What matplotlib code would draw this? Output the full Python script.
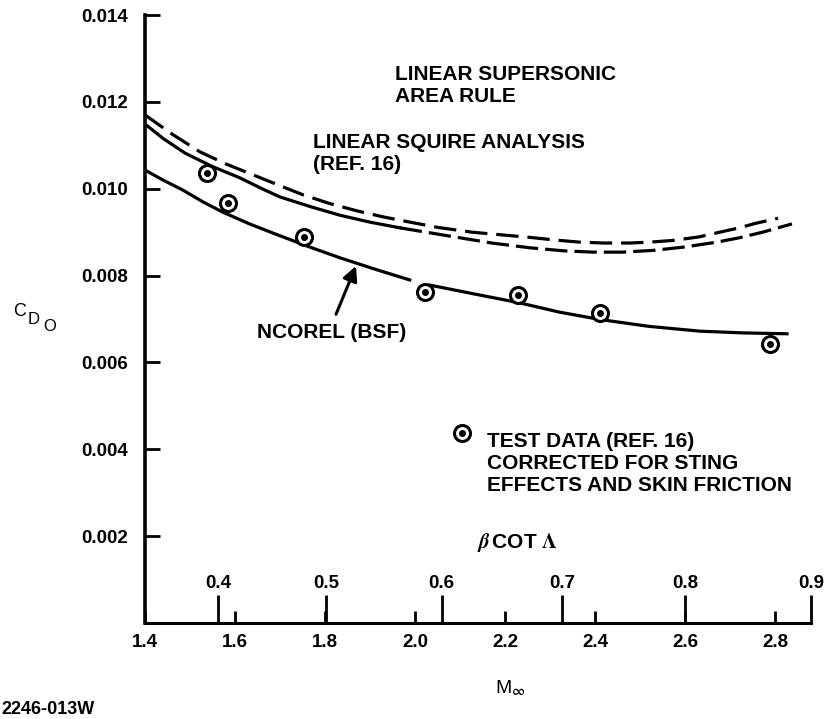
import numpy as np
import matplotlib.pyplot as plt

plt.rcParams['font.family'] = ['Liberation Sans', 'DejaVu Sans']
plt.rcParams['font.weight'] = 'bold'
plt.rcParams['mathtext.fontset'] = 'stix'

# zero-lift drag coefficient vs free-stream Mach number
area_rule_mach = [1.400, 1.46, 1.522, 1.58, 1.640, 1.70, 1.751, 1.81, 1.871,
                  1.93, 1.984, 2.05, 2.126, 2.19, 2.255, 2.31, 2.366, 2.42,
                  2.477, 2.52, 2.573, 2.63, 2.677, 2.72, 2.755, 2.806]
area_rule_cd = [0.01170, 0.01126, 0.01085, 0.01057, 0.01032, 0.01007, 0.00986,
                0.00966, 0.00949, 0.00935, 0.00924, 0.00911, 0.00900, 0.00894,
                0.00888, 0.00882, 0.00877, 0.00875, 0.00875, 0.00877, 0.00881,
                0.00889, 0.00900, 0.00910, 0.00920, 0.00932]

squire_mach = [1.400, 1.44, 1.489, 1.55, 1.611, 1.66, 1.700, 1.77, 1.833,
               1.90, 1.966, 2.03, 2.088, 2.17, 2.255, 2.33, 2.395, 2.46,
               2.528, 2.60, 2.670, 2.72, 2.772, 2.837]
squire_cd = [0.01149, 0.01116, 0.01082, 0.01051, 0.01025, 0.01000, 0.00981,
             0.00958, 0.00939, 0.00923, 0.00910, 0.00899, 0.00889, 0.00875,
             0.00864, 0.00857, 0.00854, 0.00854, 0.00858, 0.00866, 0.00877,
             0.00887, 0.00900, 0.00919]

# NCOREL curve, drawn in two pieces (gap near the M=2.0 test point)
ncorel_mach_a = [1.400, 1.44, 1.484, 1.53, 1.573, 1.63, 1.684, 1.76, 1.833,
                 1.91, 1.988]
ncorel_cd_a = [0.01043, 0.01020, 0.00997, 0.00969, 0.00946, 0.00920, 0.00898,
               0.00868, 0.00841, 0.00815, 0.00790]
ncorel_mach_b = [2.033, 2.13, 2.233, 2.32, 2.410, 2.52, 2.633, 2.73, 2.826]
ncorel_cd_b = [0.00778, 0.00758, 0.00737, 0.00716, 0.00699, 0.00683, 0.00672,
               0.00668, 0.00666]

test_mach = [1.538, 1.584, 1.753, 2.022, 2.228, 2.410, 2.788]
test_cd = [0.01036, 0.00967, 0.00889, 0.00762, 0.00755, 0.00714, 0.00642]

mach_ticks = [1.4, 1.6, 1.8, 2.0, 2.2, 2.4, 2.6, 2.8]
cd_ticks = [0.002, 0.004, 0.006, 0.008, 0.010, 0.012, 0.014]
bcot_ticks = [0.4, 0.5, 0.6, 0.7, 0.8, 0.9]
cot_sweep = 1.0 / 3.0


def mach_to_bcot(m):
    m = np.asarray(m, dtype=float)
    return np.sqrt(np.clip(m ** 2 - 1, 0, None)) * cot_sweep


def bcot_to_mach(b):
    b = np.asarray(b, dtype=float)
    return np.sqrt(1 + (b / cot_sweep) ** 2)


fig = plt.figure(figsize=(8.27, 7.19), dpi=100)
ax = fig.add_axes([0.1753, 0.1335, 0.8053, 0.8456])

lw = 2.3
ax.plot(area_rule_mach, area_rule_cd, color='k', lw=lw, dashes=(7, 2.8))

# squire curve is solid up to about M=2, dashed beyond
sq_m = np.array(squire_mach)
sq_c = np.array(squire_cd)
cut = np.searchsorted(sq_m, 1.97)
ax.plot(sq_m[:cut], sq_c[:cut], color='k', lw=lw)
ax.plot(sq_m[cut - 1:], sq_c[cut - 1:], color='k', lw=lw, dashes=(7, 2.2))

ax.plot(ncorel_mach_a, ncorel_cd_a, color='k', lw=lw)
ax.plot(ncorel_mach_b, ncorel_cd_b, color='k', lw=lw)

ax.plot(test_mach, test_cd, 'o', ms=11.5, mfc='white', mec='k', mew=2.2)
ax.plot(test_mach, test_cd, 'o', ms=4, color='k')

# legend symbol
ax.plot([2.104], [0.004375], 'o', ms=11.5, mfc='white', mec='k', mew=2.2)
ax.plot([2.104], [0.004375], 'o', ms=4, color='k')

ax.set_xlim(1.4, float(bcot_to_mach(0.9)))
ax.set_ylim(0, 0.014)
ax.set_xticks(mach_ticks)
ax.set_xticklabels([f'{v:.1f}' for v in mach_ticks])
ax.set_yticks(cd_ticks)
ax.set_yticklabels([f'{v:.3f}' for v in cd_ticks])
ax.tick_params(axis='x', direction='in', length=9, width=2, pad=8,
               labelsize=13.5)
ax.tick_params(axis='y', direction='in', length=11, width=2, pad=12,
               labelsize=13.5)
for s in ['top', 'right']:
    ax.spines[s].set_visible(False)
ax.spines['left'].set_linewidth(2.6)
ax.spines['bottom'].set_linewidth(2.2)

# beta cot(Lambda) scale drawn on the Mach axis
sec = ax.secondary_xaxis(0, functions=(mach_to_bcot, bcot_to_mach))
sec.set_alignment('top')
for s in sec.spines.values():
    s.set_visible(False)
sec.set_xticks(bcot_ticks)
sec.set_xticklabels([f'{v:.1f}' for v in bcot_ticks])
sec.tick_params(axis='x', direction='out', length=20, width=2, pad=2,
                labelsize=13.5)

ax.text(1.955, 0.01237, 'LINEAR SUPERSONIC\nAREA RULE', ha='left',
        va='center', fontsize=15, linespacing=1.2)
ax.text(1.773, 0.01082, 'LINEAR SQUIRE ANALYSIS\n(REF. 16)', ha='left',
        va='center', fontsize=15, linespacing=1.2)
ax.text(1.649, 0.00670, 'NCOREL (BSF)', ha='left', va='center', fontsize=15)
ax.annotate('', xy=(1.871, np.interp(1.871, ncorel_mach_a, ncorel_cd_a)),
            xytext=(1.822, 0.00705),
            arrowprops=dict(arrowstyle='-|>', color='k', lw=2.2,
                            mutation_scale=22))
ax.text(2.159, 0.00368,
        'TEST DATA (REF. 16)\nCORRECTED FOR STING\nEFFECTS AND SKIN FRICTION',
        ha='left', va='center', fontsize=15, linespacing=1.2)
ax.text(2.137, 0.001865, r'$\beta\,$COT $\Lambda$', ha='left', va='center',
        fontsize=15)

fig.text(13 / 827, 1 - 312 / 719, 'C', fontsize=13, fontweight='normal',
         ha='left', va='center')
fig.text(28 / 827, 1 - 320 / 719, 'D', fontsize=12, fontweight='normal',
         ha='left', va='center')
fig.text(43 / 827, 1 - 327 / 719, 'O', fontsize=12, fontweight='normal',
         ha='left', va='center')
fig.text(510 / 827, 1 - 688 / 719, r'M$_\infty$', fontsize=14,
         fontweight='normal', ha='center', va='center')
fig.text(0.002, 1 - 709 / 719, '2246-013W', fontsize=13, ha='left',
         va='center')

fig.savefig('out.png', dpi=100)
